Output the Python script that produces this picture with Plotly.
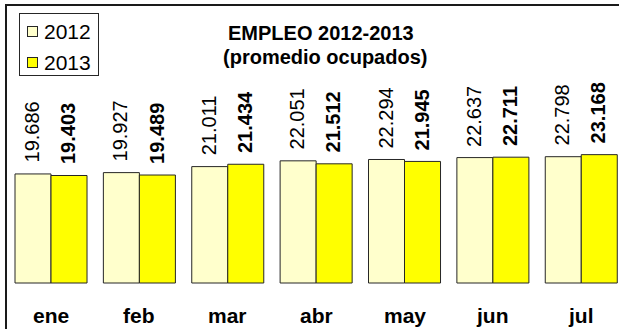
import plotly.graph_objects as go

# Monthly average employed persons, 2012 vs 2013
months = ["ene", "feb", "mar", "abr", "may", "jun", "jul"]
empleo_2012 = [19686, 19927, 21011, 22051, 22294, 22637, 22798]
empleo_2013 = [19403, 19489, 21434, 21512, 21945, 22711, 23168]
series_names = ["2012", "2013"]
title_lines = ["EMPLEO 2012-2013", "(promedio ocupados)"]

W, H = 619, 329
ML, MT = 7, 6                      # plot area starts here (frame lines)
PW, PH = W - ML, H - MT
FONT = "Liberation Sans, Arial, sans-serif"
COL_2012 = "#FFFFCC"
COL_2013 = "#FFFF00"
EDGE = "#262626"
BARGAP = 0.185
HALF = (1 - BARGAP) / 4            # offset from category centre to each bar centre


def px(x):
    """Figure pixel column -> paper x."""
    return (x - ML) / PW


def py(y):
    """Figure pixel row -> paper y."""
    return (H - y) / PH


def fmt(v):
    # Spanish thousands separator
    return f"{v:,}".replace(",", ".")


fig = go.Figure()
fig.add_bar(x=months, y=empleo_2012, name=series_names[0],
            marker=dict(color=COL_2012, line=dict(color=EDGE, width=1)))
fig.add_bar(x=months, y=empleo_2013, name=series_names[1],
            marker=dict(color=COL_2013, line=dict(color=EDGE, width=1)))

annotations = []

# Hand-drawn compact legend: frame, swatches, labels
annotations.append(dict(
    x=px(58.5), y=py(44), xref="paper", yref="paper", text=" ",
    width=78, height=61, borderpad=0, borderwidth=1, bordercolor=EDGE,
    bgcolor="white", showarrow=False, xanchor="center", yanchor="middle",
    font=dict(size=2),
))
for name, col, cy in ((series_names[0], COL_2012, 31), (series_names[1], COL_2013, 62)):
    annotations.append(dict(
        x=px(32.5), y=py(cy), xref="paper", yref="paper", text=" ",
        width=9, height=9, borderpad=0, borderwidth=1, bordercolor=EDGE,
        bgcolor=col, showarrow=False, xanchor="center", yanchor="middle",
        font=dict(size=2),
    ))
    annotations.append(dict(
        x=px(42), y=py(cy), xref="paper", yref="paper", text=name,
        showarrow=False, xanchor="left", yanchor="middle",
        font=dict(family=FONT, size=21, color="black"),
    ))

# Vertical value labels above each bar
for i in range(len(months)):
    for vals, dx, bold in ((empleo_2012, -HALF, False), (empleo_2013, HALF, True)):
        txt = fmt(vals[i])
        annotations.append(dict(
            x=i + dx, y=vals[i], xref="x", yref="y",
            text=f"<b>{txt}</b>" if bold else txt,
            textangle=-90, showarrow=False,
            xanchor="center", yanchor="bottom", yshift=9, xshift=-1,
            font=dict(family=FONT, size=20, color="black"),
        ))

# Month names under the bars
for i, m in enumerate(months):
    annotations.append(dict(
        x=i, y=-5780, xref="x", yref="y", text=f"<b>{m}</b>",
        showarrow=False, xanchor="center", yanchor="middle",
        font=dict(family=FONT, size=21, color="black"),
    ))

# Title, two centred bold lines
for text, cx, cy in ((title_lines[0], 321, 33), (title_lines[1], 325, 57)):
    annotations.append(dict(
        x=px(cx), y=py(cy), xref="paper", yref="paper", text=f"<b>{text}</b>",
        showarrow=False, xanchor="center", yanchor="middle",
        font=dict(family=FONT, size=20, color="black"),
    ))

fig.update_layout(
    width=W, height=H,
    margin=dict(l=ML, r=0, t=MT, b=0, pad=0),
    paper_bgcolor="white", plot_bgcolor="white",
    barmode="group", bargap=BARGAP, bargroupgap=0,
    showlegend=False,
    # top axis line and left axis line form the frame
    xaxis=dict(range=[-0.498, 6.427], side="top", showline=True, linewidth=2,
               linecolor="#1a1a1a", showticklabels=False, ticks="",
               showgrid=False, zeroline=False),
    yaxis=dict(range=[-8303, 50000], showline=True, linewidth=2,
               linecolor="#1a1a1a", showticklabels=False, ticks="",
               showgrid=False, zeroline=False),
    annotations=annotations,
)

fig.write_html("out.html")
